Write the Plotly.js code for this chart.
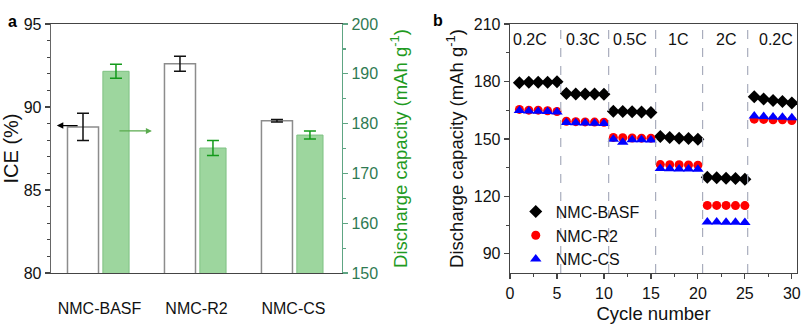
<!DOCTYPE html>
<html>
<head>
<meta charset="utf-8">
<script src="https://cdn.plot.ly/plotly-3.0.1.min.js"></script>
<style>
    body { margin: 0; background: #fff; }
    #chart { width: 803px; height: 325px; }
</style>
</head>
<body>
<div id="chart"></div>
<script>
// Panel a: ICE and first discharge capacity
const samples = ['NMC-BASF', 'NMC-R2', 'NMC-CS'];
const ice = [88.8, 92.6, 89.17];
const iceErr = [0.82, 0.45, 0.08];
const capacity = [190.5, 175.1, 177.7];
const capacityErr = [1.4, 1.5, 0.8];

// Panel b: rate capability
const cycles = [1, 2, 3, 4, 5, 6, 7, 8, 9, 10, 11, 12, 13, 14, 15,
                16, 17, 18, 19, 20, 21, 22, 23, 24, 25, 26, 27, 28, 29, 30];
const basf = [179.3, 179.6, 179.6, 179.6, 179.8, 173.7, 173.5, 173.5, 173.4, 173.3,
              164.5, 164.3, 164.2, 164.0, 163.8, 151.3, 150.8, 150.4, 150.2, 149.8,
              130.0, 129.7, 129.5, 129.3, 129.0, 172.0, 170.9, 170.1, 169.6, 168.8];
const r2 = [165.4, 165.0, 165.0, 164.7, 164.3, 159.2, 159.0, 158.9, 158.8, 158.7,
            150.8, 150.6, 150.5, 150.4, 150.4, 136.6, 136.5, 136.5, 136.4, 136.3,
            115.3, 115.3, 115.3, 115.2, 115.2, 160.3, 160.2, 160.0, 160.0, 159.6];
const cs = [164.8, 164.6, 164.5, 164.3, 164.0, 158.6, 158.4, 158.3, 158.2, 158.1,
            149.8, 148.3, 149.6, 149.6, 149.5, 134.5, 134.4, 134.3, 134.3, 134.2,
            106.6, 106.6, 106.5, 106.5, 106.4, 162.0, 161.7, 161.5, 161.3, 161.1];
const rateLabels = ['0.2C', '0.3C', '0.5C', '1C', '2C', '0.2C'];
const rateLabelX = [2.15, 7.8, 12.8, 17.9, 23.0, 28.3];
const rateBounds = [5.4, 10.5, 15.5, 20.5, 25.3];

document.addEventListener('DOMContentLoaded', function() {
    const FONT = 'Liberation Sans, Arial, sans-serif';
    const GREEN_TEXT = '#1f9a22';
    const GREEN_AXIS = '#5ea583';
    const GREEN_TICK = '#2f7a52';

    const iceTrace = {
        type: 'bar',
        x: samples,
        y: ice,
        xaxis: 'x', yaxis: 'y',
        offset: -0.33, width: 0.32,
        marker: { color: '#ffffff', line: { color: '#8c8c8c', width: 1.5 } },
        error_y: { type: 'data', array: iceErr, color: '#111', thickness: 1.5, width: 6 },
        showlegend: false
    };
    const capTrace = {
        type: 'bar',
        x: samples,
        y: capacity,
        xaxis: 'x', yaxis: 'y2',
        offset: 0.035, width: 0.27,
        marker: { color: '#9dd69e', line: { color: '#7fc283', width: 1 } },
        error_y: { type: 'data', array: capacityErr, color: '#139a1a', thickness: 1.5, width: 6 },
        showlegend: false
    };

    function rateTrace(name, values, symbol, color, size) {
        return {
            type: 'scatter', mode: 'markers',
            x: cycles, y: values,
            xaxis: 'x2', yaxis: 'y3',
            name: name,
            marker: { symbol: symbol, color: color, size: size }
        };
    }

    const traces = [
        iceTrace, capTrace,
        rateTrace('NMC-BASF', basf, 'diamond', '#000000', 10),
        rateTrace('NMC-R2', r2, 'circle', '#ff0000', 9),
        rateTrace('NMC-CS', cs, 'triangle-up', '#0000ff', 10)
    ];

    // dashed separators between current rates
    const shapes = rateBounds.map(function(b) {
        return {
            type: 'line', xref: 'x2', yref: 'y3 domain',
            x0: b, x1: b, y0: 0, y1: 1,
            line: { color: '#a9adbd', width: 1.2, dash: 'dash' }
        };
    });

    const annotations = rateLabels.map(function(t, i) {
        return {
            xref: 'x2', yref: 'y3', x: rateLabelX[i], y: 202,
            text: t, showarrow: false, font: { size: 16, color: '#111' }
        };
    });

    // panel letters
    annotations.push({ xref: 'paper', yref: 'paper', x: -0.06, y: 1.052, text: '<b>a</b>',
        showarrow: false, font: { size: 16, color: '#000' } });
    annotations.push({ xref: 'paper', yref: 'paper', x: 0.519, y: 1.056, text: '<b>b</b>',
        showarrow: false, font: { size: 16, color: '#000' } });

    // arrows pointing to the matching axis
    annotations.push({ xref: 'x', yref: 'y', axref: 'x', ayref: 'y',
        x: -0.44, y: 88.88, ax: -0.21, ay: 88.88, text: '',
        showarrow: true, arrowhead: 2, arrowsize: 1, arrowwidth: 1.3, arrowcolor: '#000' });
    annotations.push({ xref: 'x', yref: 'y', axref: 'x', ayref: 'y',
        x: 0.54, y: 88.56, ax: 0.19, ay: 88.56, text: '',
        showarrow: true, arrowhead: 2, arrowsize: 1, arrowwidth: 1.2, arrowcolor: '#5bab4f' });

    const axisBase = {
        showgrid: false, zeroline: false, showline: true,
        linecolor: '#444', linewidth: 1.3,
        ticks: 'outside', ticklen: 5, tickwidth: 1.2, tickcolor: '#444',
        tickfont: { size: 16, color: '#111' }
    };

    const layout = {
        width: 803, height: 325,
        margin: { l: 51, r: 6, t: 24, b: 52 },
        paper_bgcolor: '#ffffff', plot_bgcolor: 'rgba(0,0,0,0)',
        font: { family: FONT, color: '#111' },
        xaxis: Object.assign({}, axisBase, {
            domain: [0, 0.39], anchor: 'y', type: 'category',
            range: [-0.5, 2.5], ticks: '', mirror: true,
            ticklabelstandoff: 20
        }),
        yaxis: Object.assign({}, axisBase, {
            domain: [0, 1], anchor: 'x', range: [80, 95], dtick: 5,
            linecolor: '#666',
            minor: { dtick: 1, ticks: 'outside', ticklen: 3, tickcolor: '#444' },
            title: { text: 'ICE (%)', font: { size: 20 }, standoff: 12 }
        }),
        yaxis2: Object.assign({}, axisBase, {
            overlaying: 'y', side: 'right', anchor: 'x',
            range: [150, 200], dtick: 10,
            linecolor: GREEN_AXIS, tickcolor: GREEN_AXIS,
            tickfont: { size: 16, color: GREEN_TICK },
            minor: { dtick: 5, ticks: 'outside', ticklen: 3, tickcolor: GREEN_AXIS },
            title: { text: 'Discharge capacity (mAh g<sup>-1</sup>)',
                     font: { size: 18.5, color: GREEN_TEXT }, standoff: 16 }
        }),
        xaxis2: Object.assign({}, axisBase, {
            domain: [0.6153, 1], anchor: 'y3',
            range: [0, 30.55], dtick: 5, mirror: true,
            minor: { dtick: 2.5, ticks: 'outside', ticklen: 3, tickcolor: '#444' },
            title: { text: 'Cycle number', font: { size: 18.5 }, standoff: 6 }
        }),
        yaxis3: Object.assign({}, axisBase, {
            domain: [0, 1], anchor: 'x2',
            range: [80, 210], dtick: 30, mirror: true,
            minor: { dtick: 15, ticks: 'outside', ticklen: 3, tickcolor: '#444' },
            title: { text: 'Discharge capacity (mAh g<sup>-1</sup>)',
                     font: { size: 18.5 }, standoff: 5 }
        }),
        showlegend: true,
        legend: {
            x: 0.623, y: 0.315, xanchor: 'left', yanchor: 'top',
            bgcolor: 'rgba(0,0,0,0)', font: { size: 16, color: '#111' },
            tracegroupgap: 0
        },
        shapes: shapes,
        annotations: annotations
    };

    Plotly.newPlot('chart', traces, layout, { displayModeBar: false, staticPlot: true });
});
</script>
</body>
</html>
